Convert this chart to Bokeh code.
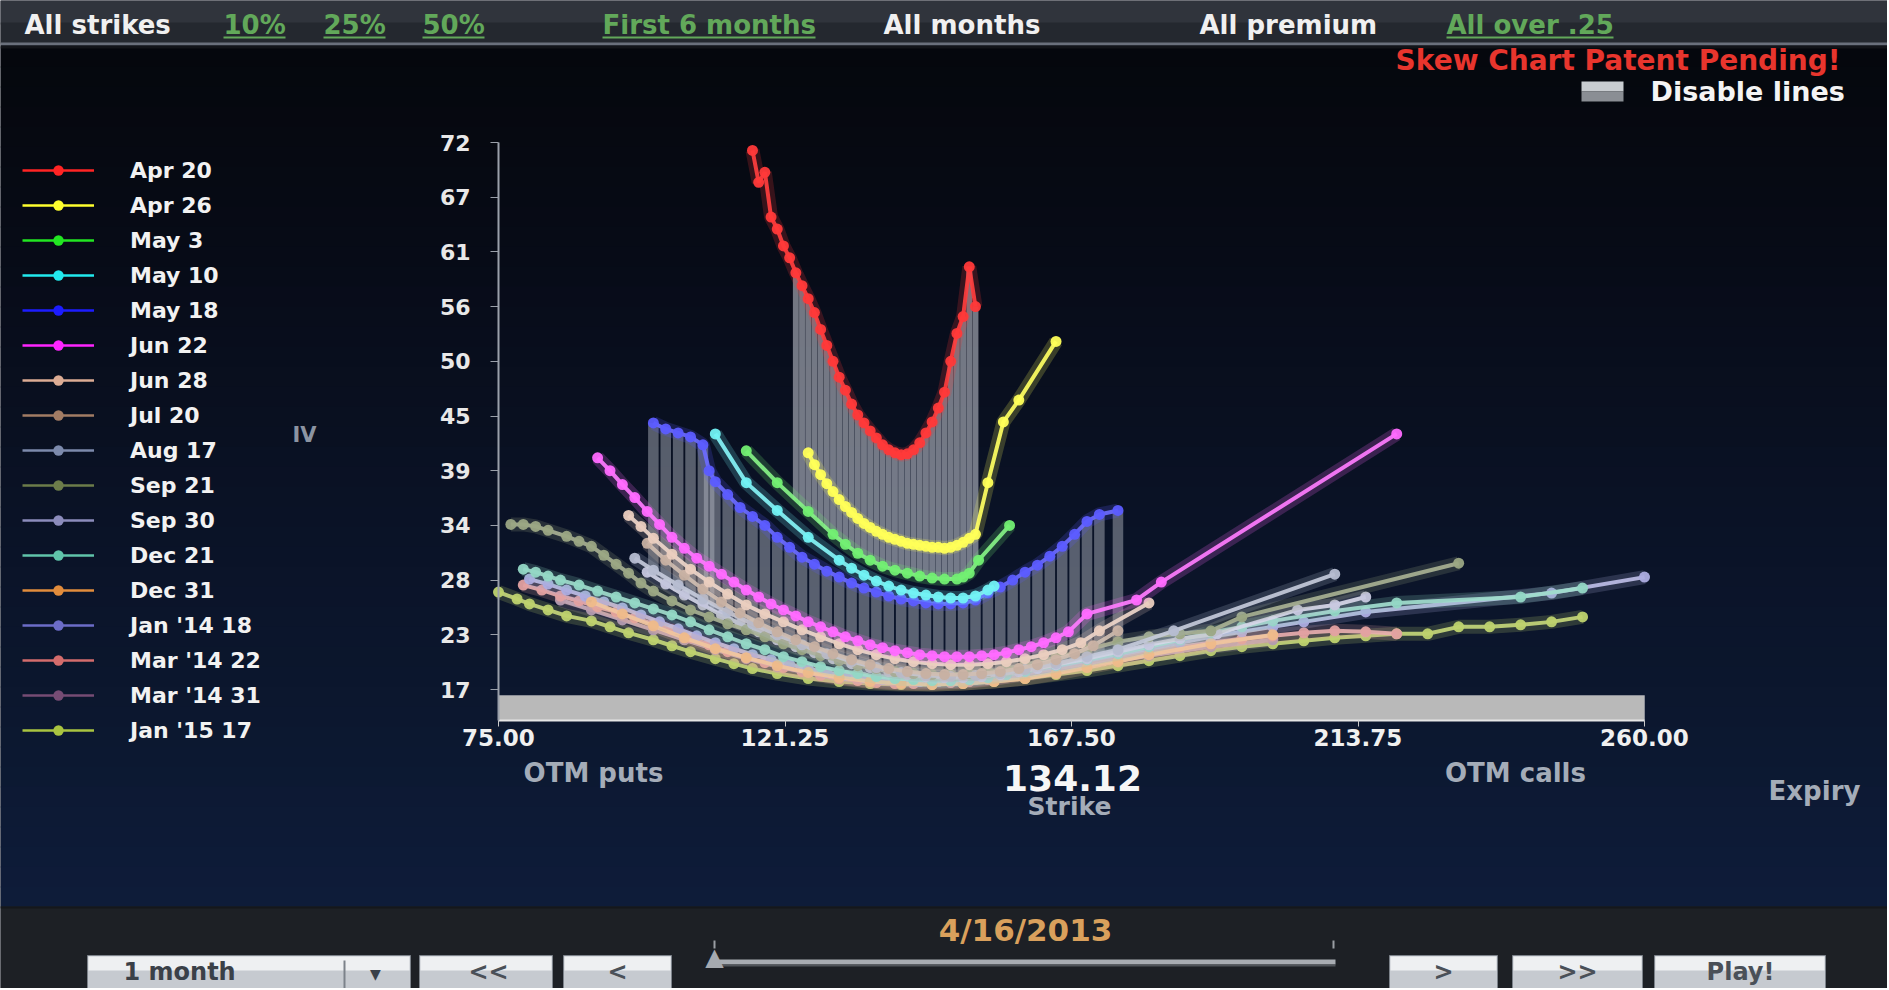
import numpy as np
from bokeh.plotting import figure
from bokeh.models import Label, BoxAnnotation, Legend, LegendItem, FixedTicker, Range1d, LinearAxis
from bokeh.embed import file_html
from bokeh.resources import INLINE

# ---------------- data ----------------
expiries = ["Apr 20", "Apr 26", "May 3", "May 10", "May 18", "Jun 22", "Jun 28", "Jul 20",
            "Aug 17", "Sep 21", "Sep 30", "Dec 21", "Dec 31", "Jan '14 18", "Mar '14 22",
            "Mar '14 31", "Jan '15 17"]

apr20_strike = [116, 117, 118, 119, 120, 121, 122, 123, 124, 125, 126, 127, 128, 129, 130, 131, 132, 133, 134,
                135, 136, 137, 138, 139, 140, 141, 142, 143, 144, 145, 146, 147, 148, 149, 150, 151, 152]
apr20_iv = [71.2, 68.0, 69.0, 64.5, 63.3, 61.6, 60.4, 58.9, 57.6, 56.3, 54.9, 53.2, 51.6, 50.0, 48.4, 47.1, 45.7,
            44.6, 43.8, 43.0, 42.3, 41.6, 41.1, 40.8, 40.6, 40.7, 41.1, 41.8, 42.8, 43.9, 45.3, 46.9, 50.0, 52.8,
            54.5, 59.5, 55.5]

apr26_strike = [125, 126, 127, 128, 129, 130, 131, 132, 133, 134, 135, 136, 137, 138, 139, 140, 141, 142, 143, 144,
                145, 146, 147, 148, 149, 150, 151, 152, 154, 156.5, 159, 165]
apr26_iv = [40.8, 39.6, 38.6, 37.7, 36.9, 36.1, 35.4, 34.8, 34.2, 33.7, 33.3, 32.9, 32.6, 32.3, 32.1, 31.9, 31.7,
            31.6, 31.5, 31.4, 31.3, 31.3, 31.2, 31.3, 31.5, 31.8, 32.2, 32.6, 37.8, 43.9, 46.1, 52.0]

may3_strike = [115, 120, 125, 129, 131, 133, 135, 137, 139, 141, 143, 145, 147, 149, 150, 151, 152.5, 157.5]
may3_iv = [41.0, 37.8, 34.9, 32.6, 31.6, 30.7, 30.0, 29.4, 29.0, 28.7, 28.4, 28.2, 28.1, 28.1, 28.3, 28.7, 30.0, 33.5]

may10_strike = [110, 115, 120, 125, 130, 132, 134, 136, 138, 140, 142, 144, 146, 148, 150, 152, 154, 155]
may10_iv = [42.7, 37.8, 35.0, 32.3, 30.0, 29.2, 28.5, 27.9, 27.4, 27.0, 26.7, 26.5, 26.3, 26.2, 26.2, 26.4, 27.0, 27.4]

may18_strike = [100, 102, 104, 106, 108, 109, 110, 112, 114, 116, 118, 120, 122, 124, 126, 128, 130, 132, 134, 136,
                138, 140, 142, 144, 146, 148, 150, 152, 154, 156, 158, 160, 162, 164, 166, 168, 170, 172, 175]
may18_iv = [43.8, 43.2, 42.8, 42.4, 41.6, 39.0, 37.9, 36.6, 35.3, 34.4, 33.5, 32.3, 31.3, 30.3, 29.6, 28.9, 28.3,
            27.7, 27.2, 26.8, 26.4, 26.1, 25.9, 25.7, 25.6, 25.6, 25.7, 26.0, 26.7, 27.3, 28.0, 28.8, 29.5, 30.4,
            31.4, 32.6, 33.9, 34.6, 35.0]

jun22_strike = [91, 93, 95, 97, 99, 101, 103, 105, 107, 109, 111, 113, 115, 117, 119, 121, 123, 125, 127, 129, 131,
                133, 135, 137, 139, 141, 143, 145, 147, 149, 151, 153, 155, 157, 159, 161, 163, 165, 167, 170, 178,
                182, 220]
jun22_iv = [40.3, 39.0, 37.6, 36.3, 34.9, 33.6, 32.3, 31.2, 30.2, 29.4, 28.6, 27.8, 27.0, 26.3, 25.6, 25.0, 24.4,
            23.8, 23.3, 22.8, 22.3, 21.9, 21.5, 21.2, 20.9, 20.7, 20.5, 20.4, 20.3, 20.3, 20.3, 20.4, 20.5, 20.7,
            21.0, 21.3, 21.7, 22.2, 22.8, 24.6, 26.0, 27.8, 42.7]

jun28_strike = [96, 98, 100, 103, 106, 109, 112, 115, 118, 121, 124, 127, 130, 133, 136, 139, 142, 145, 148, 151,
                154, 157, 160, 163, 166, 169, 172, 180]
jun28_iv = [34.5, 33.4, 32.2, 30.6, 29.1, 27.8, 26.6, 25.5, 24.6, 23.8, 23.0, 22.3, 21.6, 21.0, 20.5, 20.1, 19.8,
            19.6, 19.5, 19.5, 19.6, 19.8, 20.1, 20.5, 21.0, 21.7, 22.9, 25.7]

jul20_strike = [99, 102, 105, 108, 111, 114, 117, 120, 123, 126, 129, 132, 135, 138, 141, 144, 147, 150, 153, 156,
                159, 162, 165, 168, 171, 175]
jul20_iv = [31.7, 30.0, 28.5, 27.1, 25.8, 24.7, 23.7, 22.8, 22.0, 21.3, 20.6, 20.0, 19.5, 19.1, 18.8, 18.6, 18.5,
            18.5, 18.6, 18.8, 19.1, 19.5, 20.0, 20.6, 21.4, 22.9]

aug17_strike = [97, 100, 104, 108, 112, 116, 120, 124, 128, 132, 136, 140, 144, 148, 152, 156, 160, 165, 170, 175,
                184, 210]
aug17_iv = [30.2, 29.0, 27.5, 26.1, 24.8, 23.6, 22.5, 21.5, 20.6, 19.8, 19.2, 18.7, 18.4, 18.3, 18.4, 18.6, 19.0,
            19.6, 20.3, 21.0, 22.9, 28.6]

sep21_strike = [77, 79, 81, 83, 86, 88, 90, 92, 94, 96, 98, 100, 103, 106, 109, 112, 115, 118, 121, 124, 127, 130,
                133, 136, 139, 142, 145, 148, 151, 154, 157, 160, 165, 170, 175, 180, 185, 190, 195, 230]
sep21_iv = [33.6, 33.6, 33.4, 33.0, 32.4, 31.9, 31.4, 30.5, 29.6, 28.7, 27.7, 26.9, 25.9, 25.0, 24.3, 23.6, 23.0,
            22.3, 21.6, 21.0, 20.4, 19.9, 19.4, 19.1, 18.8, 18.6, 18.5, 18.5, 18.6, 18.8, 19.1, 19.5, 20.2, 21.0,
            21.8, 22.3, 22.6, 22.9, 24.3, 29.7]

sep30_strike = [99, 102, 105, 108, 111, 114, 117, 120, 123, 126, 129, 132, 135, 138, 141, 144, 147, 150, 153, 156,
                159, 162, 165, 170, 175, 180, 185, 191, 204, 210, 215]
sep30_iv = [28.8, 27.6, 26.5, 25.5, 24.5, 23.6, 22.8, 22.0, 21.3, 20.7, 20.1, 19.6, 19.2, 18.8, 18.5, 18.3, 18.2,
            18.2, 18.3, 18.5, 18.8, 19.1, 19.5, 20.1, 20.8, 21.5, 22.1, 22.6, 25.0, 25.5, 26.3]

dec21_strike = [79, 81, 83, 85, 88, 91, 94, 97, 100, 103, 106, 109, 112, 115, 118, 121, 124, 127, 130, 133, 136,
                139, 142, 145, 148, 151, 154, 157, 160, 165, 170, 175, 180, 185, 190, 195, 200, 210, 220, 240, 250]
dec21_iv = [29.1, 28.8, 28.4, 28.0, 27.5, 26.9, 26.3, 25.7, 25.1, 24.5, 23.8, 23.0, 22.3, 21.6, 21.0, 20.3, 19.8,
            19.3, 18.9, 18.6, 18.3, 18.1, 18.0, 17.9, 17.9, 18.0, 18.2, 18.5, 18.8, 19.4, 20.0, 20.6, 21.3, 22.0,
            22.7, 23.3, 23.9, 24.9, 25.7, 26.3, 27.2]

dec31_strike = [90, 95, 100, 105, 110, 115, 120, 125, 130, 135, 140, 145, 150, 155, 160, 165, 170, 175, 180, 190, 200]
dec31_iv = [25.8, 24.6, 23.4, 22.2, 21.1, 20.2, 19.4, 18.7, 18.2, 17.8, 17.6, 17.5, 17.6, 17.8, 18.1, 18.6, 19.2,
            19.8, 20.5, 21.6, 22.5]

jan14_strike = [80, 83, 86, 89, 92, 95, 98, 101, 104, 107, 110, 113, 116, 119, 122, 125, 128, 131, 134, 137, 140,
                143, 146, 149, 152, 156, 160, 165, 170, 175, 180, 185, 190, 195, 200, 205, 215, 245, 260]
jan14_iv = [28.1, 27.6, 27.0, 26.4, 25.8, 25.2, 24.5, 23.8, 23.1, 22.4, 21.7, 21.1, 20.5, 20.0, 19.5, 19.1, 18.7,
            18.4, 18.2, 18.0, 17.9, 17.8, 17.8, 17.9, 18.0, 18.3, 18.7, 19.3, 19.9, 20.5, 21.1, 21.7, 22.3, 22.8,
            23.3, 23.8, 24.8, 26.7, 28.3]

mar14_22_strike = [79, 82, 85, 88, 91, 94, 97, 100, 103, 106, 109, 112, 115, 118, 121, 124, 127, 130, 133, 136, 139,
                   142, 145, 148, 151, 154, 157, 160, 165, 170, 175, 180, 185, 190, 195, 200, 205, 210, 215, 220]
mar14_22_iv = [27.5, 27.0, 26.4, 25.9, 25.3, 24.8, 24.2, 23.6, 23.0, 22.2, 21.5, 20.8, 20.2, 19.7, 19.2, 18.8,
               18.4, 18.1, 17.9, 17.7, 17.6, 17.6, 17.6, 17.7, 17.8, 18.0, 18.3, 18.6, 19.1, 19.6, 20.2, 20.8,
               21.3, 21.7, 22.1, 22.4, 22.7, 22.9, 22.8, 22.6]

mar14_31_strike = [85, 90, 95, 100, 105, 110, 115, 120, 125, 130, 135, 140, 145, 150, 155, 160, 170, 180, 190, 200]
mar14_31_iv = [26.0, 25.0, 24.0, 23.0, 22.0, 21.0, 20.1, 19.3, 18.7, 18.2, 17.9, 17.7, 17.7, 17.8, 18.1, 18.5,
               19.4, 20.4, 21.3, 22.0]

jan15_strike = [75, 78, 80, 83, 86, 90, 93, 96, 100, 103, 106, 110, 113, 116, 120, 125, 130, 135, 140, 145, 150,
                155, 160, 165, 170, 175, 180, 185, 190, 195, 200, 205, 210, 215, 220, 225, 230, 235, 240, 245, 250]
jan15_iv = [26.8, 26.1, 25.6, 25.0, 24.4, 23.9, 23.3, 22.7, 22.0, 21.4, 20.8, 20.1, 19.6, 19.1, 18.6, 18.1, 17.8,
            17.6, 17.5, 17.5, 17.6, 17.8, 18.1, 18.5, 18.9, 19.4, 19.9, 20.4, 20.9, 21.3, 21.6, 21.9, 22.2, 22.4,
            22.6, 22.6, 23.3, 23.3, 23.5, 23.8, 24.3]

x_tick_values = [75, 121.25, 167.5, 213.75, 260]
x_tick_labels = ["75.00", "121.25", "167.50", "213.75", "260.00"]
y_tick_values = [17, 22.5, 28, 33.5, 39, 44.5, 50, 55.5, 61, 66.5, 72]
y_tick_labels = ["17", "23", "28", "34", "39", "45", "50", "56", "61", "67", "72"]

spot_price = "134.12"
as_of_date = "4/16/2013"

# ---------------- styles / layout ----------------
colors = ["#ff2424", "#ffff2e", "#22e622", "#22eaee", "#1c1cff", "#ff24ff", "#dcac94", "#a27c64",
          "#7c8aac", "#6c7c4a", "#8c8cbc", "#60c4aa", "#e28c3c", "#6c6cc8", "#d46c6c", "#764c74", "#aac440"]
whiten = [0.12, 0.25, 0.45, 0.45, 0.35, 0.4, 0.5, 0.5, 0.55, 0.4, 0.65, 0.4, 0.5, 0.55, 0.45, 0.55, 0.3]
series = list(zip(expiries,
                  [apr20_strike, apr26_strike, may3_strike, may10_strike, may18_strike, jun22_strike,
                   jun28_strike, jul20_strike, aug17_strike, sep21_strike, sep30_strike, dec21_strike,
                   dec31_strike, jan14_strike, mar14_22_strike, mar14_31_strike, jan15_strike],
                  [apr20_iv, apr26_iv, may3_iv, may10_iv, may18_iv, jun22_iv, jun28_iv, jul20_iv, aug17_iv,
                   sep21_iv, sep30_iv, dec21_iv, dec31_iv, jan14_iv, mar14_22_iv, mar14_31_iv, jan15_iv],
                  colors, whiten))

W, H = 1887, 988
# strike axis: 75 -> 498px, 260 -> 1644px ; IV axis: 72 -> 142px, 17 -> 689px
XPX = (1644 - 498) / 185.0
YPX = (689 - 142) / 55.0
X0 = 75 - 498 / XPX
X1 = X0 + W / XPX
Y1 = 72 + 142 / YPX
Y0 = 17 - (H - 689) / YPX
FLOOR_TOP = 17 - 6 / YPX
FLOOR_BOTTOM = 17 - 31 / YPX


def mix(c1, c2, t):
    a = [int(c1[i:i + 2], 16) for i in (1, 3, 5)]
    b = [int(c2[i:i + 2], 16) for i in (1, 3, 5)]
    return "#%02x%02x%02x" % tuple(int(round(a[i] + (b[i] - a[i]) * t)) for i in range(3))


p = figure(width=W, height=H, output_backend="svg", toolbar_location=None,
           x_range=Range1d(X0, X1), y_range=Range1d(Y0, Y1),
           x_axis_location=None, y_axis_location=None,
           min_border_left=0, min_border_right=0, min_border_top=0, min_border_bottom=0,
           background_fill_color="#080c18", border_fill_color="#080c18", outline_line_color=None)
p.xgrid.visible = False
p.ygrid.visible = False


def sx(X):  # page x -> screen x (frame = whole canvas)
    return X


def sy(Y):  # page y -> screen y measured upwards
    return H - Y


def box(x0, y0, x1, y1, color, alpha=1.0, line=None, level="underlay"):
    p.add_layout(BoxAnnotation(left=sx(x0), right=sx(x1), top=sy(y0), bottom=sy(y1),
                               left_units="screen", right_units="screen",
                               top_units="screen", bottom_units="screen",
                               fill_color=color, fill_alpha=alpha,
                               line_color=line, line_alpha=1.0 if line else 0.0,
                               level=level))


def text(X, Y, s, size, color, style="bold", align="left", font="DejaVu Sans"):
    p.add_layout(Label(x=sx(X), y=sy(Y), x_units="screen", y_units="screen", text=s,
                       text_font=font, text_font_size=f"{size}px", text_font_style=style,
                       text_color=color, text_align=align, text_baseline="middle"))


# ---- page background gradient ----
stops = [(46, "#05070d"), (250, "#070b17"), (500, "#0a1225"), (750, "#0c1831"), (906, "#0e1c3a")]
for y in range(46, 906, 20):
    yc = y + 10
    for (ya, ca), (yb, cb) in zip(stops[:-1], stops[1:]):
        if ya <= yc <= yb:
            col = mix(ca, cb, (yc - ya) / (yb - ya))
            break
    box(0, y, W, y + 21, col)

# ---- top bar ----
box(0, 0, W, 24, "#30343c")
box(0, 22, W, 43, "#24282f")
box(0, 42, W, 45, "#6a707c")
box(0, 45, W, 48, "#121419")
for s, x0, c in [("All strikes", 24, "#f0f0f0"), ("10%", 223, "#62a85a"), ("25%", 323, "#62a85a"),
                 ("50%", 422, "#62a85a"), ("First 6 months", 602, "#62a85a"), ("All months", 883, "#f0f0f0"),
                 ("All premium", 1199, "#f0f0f0"), ("All over .25", 1446, "#62a85a")]:
    text(x0, 24, s, 26, c)
for x0, wdt in [(223, 62), (323, 62), (422, 62), (602, 213), (1446, 167)]:
    box(x0, 36, x0 + wdt, 38, "#62a85a", level="annotation")

text(1840, 60, "Skew Chart Patent Pending!", 28, "#e8352d", align="right")
box(1581, 81, 1623, 91, "#c8ccd0")
box(1581, 91, 1623, 101, "#8a8e94")
text(1650, 91, "Disable lines", 27, "#f4f4f4")

# ---- floor bar ----
p.add_layout(BoxAnnotation(left=75, right=260, top=FLOOR_TOP, bottom=FLOOR_BOTTOM, fill_color="#b9b9b9",
                           fill_alpha=1.0, line_color="#e8e8e8", line_width=1, level="underlay"))

# ---- curtains (drop lines) ----
rk = np.array(apr20_strike, float)
rv = np.array(apr20_iv, float)
m = rk >= 123
p.vbar(x=rk[m], top=rv[m], bottom=np.interp(rk[m], may3_strike, may3_iv), width=0.95,
       fill_color="#ccd0d8", fill_alpha=0.55, line_color=None)
bk = np.array(may18_strike, float)
bv = np.array(may18_iv, float)
p.vbar(x=bk, top=bv, bottom=np.interp(bk, sep30_strike, sep30_iv), width=1.7,
       fill_color="#b8bcc6", fill_alpha=0.45, line_color=None)

# ---- curves ----
legend_renderers = {}
for name, k, iv, col, wt in reversed(series):
    p.line(k, iv, line_color=mix(col, "#ffffff", wt * 0.8), line_width=14, line_alpha=0.2)
    p.line(k, iv, line_color=mix(col, "#ffffff", wt), line_width=4, line_alpha=0.92)
    p.scatter(k, iv, size=11, fill_color=mix(col, "#ffffff", wt * 0.8), line_color=None, fill_alpha=0.95)
    # legend swatch: the series in its pure key colour (hidden in the plot itself)
    lr = p.line(k, iv, line_color=col, line_width=2.5, visible=False)
    sr = p.scatter(k, iv, size=12, fill_color=col, line_color=None, visible=False)
    legend_renderers[name] = [lr, sr]

legend = Legend(items=[LegendItem(label=n, renderers=legend_renderers[n]) for n in expiries],
                location=(sx(22), sy(743)), padding=0, margin=0, spacing=9,
                glyph_height=26, glyph_width=72, label_height=26, label_standoff=36,
                label_text_font="DejaVu Sans", label_text_font_style="bold", label_text_font_size="22px",
                label_text_color="#f2f2f2", background_fill_alpha=0.0, border_line_alpha=0.0)
p.add_layout(legend)

# ---- axes ----
xa = LinearAxis(fixed_location=FLOOR_BOTTOM, ticker=FixedTicker(ticks=x_tick_values, minor_ticks=[]),
                major_label_overrides={v: s for v, s in zip(x_tick_values, x_tick_labels)},
                bounds=(75, 260), axis_line_color="#e6e6e6", axis_line_width=2,
                major_tick_line_color="#c8c8c8", major_tick_out=6, major_tick_in=0,
                minor_tick_line_color=None, major_label_standoff=2,
                major_label_text_font="DejaVu Sans", major_label_text_font_style="bold",
                major_label_text_font_size="23px", major_label_text_color="#f0f0f0")
p.add_layout(xa, "below")
ya = LinearAxis(fixed_location=75, ticker=FixedTicker(ticks=y_tick_values, minor_ticks=[]),
                major_label_overrides={v: s for v, s in zip(y_tick_values, y_tick_labels)},
                bounds=(FLOOR_BOTTOM, 72), axis_line_color="#9aa0aa", axis_line_width=2,
                major_tick_line_color="#9aa0aa", major_tick_out=8, major_tick_in=0,
                minor_tick_line_color=None, major_label_standoff=20,
                major_label_text_font="DejaVu Sans", major_label_text_font_style="bold",
                major_label_text_font_size="22px", major_label_text_color="#e8e8e8")
p.add_layout(ya, "left")

text(292, 434, "IV", 21, "#8c94a2")
text(593, 772, "OTM puts", 26, "#a4acb8", align="center")
text(1515, 772, "OTM calls", 26, "#a4acb8", align="center")
text(1072, 777, spot_price, 36, "#f6f6f6", align="center")
text(1069, 806, "Strike", 25, "#a4acb8", align="center")
text(1814, 790, "Expiry", 26, "#a4acb8", align="center")

# ---- bottom control panel ----
box(0, 906, W, H, "#1d2025")
box(0, 906, W, 908, "#15171b")
text(1025, 929, as_of_date, 31, "#d9a05c", style="bold", align="center")
for x0, x1 in [(87, 410), (419, 552), (563, 671), (1389, 1497), (1512, 1642), (1654, 1825)]:
    box(x0, 955, x1, H + 4, "#c6cad0", line="#7c828a")
    box(x0 + 1, 956, x1 - 1, 970, "#eef0f2")
box(343, 960, 345, H, "#7c828a")
text(123, 971, "1 month", 24, "#3a4048")
text(375, 973, "▼", 14, "#3a4048", style="normal", align="center")
for s, xc in [("<<", 488), ("<", 617), (">", 1443), (">>", 1577), ("Play!", 1740)]:
    text(xc, 971, s, 24, "#4a5058", align="center")
box(712, 959, 1335, 964, "#a8acb2")
box(712, 964, 1335, 966, "#50545a")
box(713, 940, 715, 948, "#9a9ea4")
box(1332, 940, 1334, 948, "#9a9ea4")
text(714, 956, "▲", 24, "#a6aab0", style="normal", align="center")

open("out.html", "w").write(file_html(p, INLINE))
